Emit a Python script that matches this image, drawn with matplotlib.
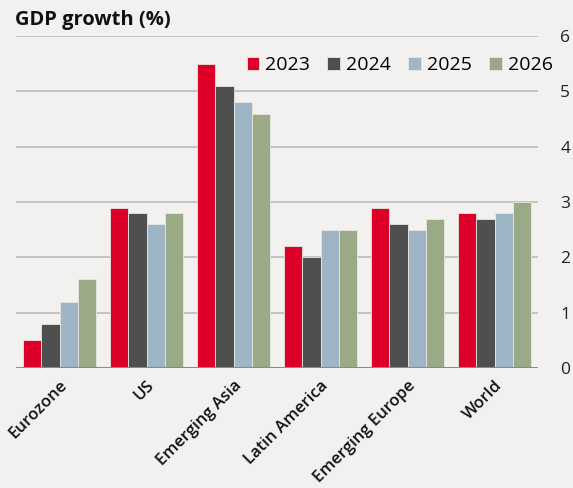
import matplotlib.pyplot as plt
import numpy as np

regions = ["Eurozone", "US", "Emerging Asia", "Latin America", "Emerging Europe", "World"]
years = ["2023", "2024", "2025", "2026"]
growth = {
    "2023": [0.5, 2.9, 5.5, 2.2, 2.9, 2.8],
    "2024": [0.8, 2.8, 5.1, 2.0, 2.6, 2.7],
    "2025": [1.2, 2.6, 4.8, 2.5, 2.5, 2.8],
    "2026": [1.6, 2.8, 4.6, 2.5, 2.7, 3.0],
}
colors = ["#dc0028", "#4f4f4f", "#9db5c4", "#9aa986"]

bg = "#f2f1ef"
plt.rcParams['font.family'] = ['Open Sans', 'DejaVu Sans']

fig = plt.figure(figsize=(5.73, 4.88), dpi=100, facecolor=bg)
ax = fig.add_axes([0.028, 0.246, 0.911, 0.680])
ax.set_facecolor(bg)

x = np.arange(len(regions))
w = 0.21
for i, yr in enumerate(years):
    ax.bar(x + (i - 1.5) * w, growth[yr], w, color=colors[i], label=yr,
           edgecolor="#e8e6e2", linewidth=0.6, zorder=3)

ax.set_xlim(-0.5, len(regions) - 0.5)
ax.set_ylim(0, 6)
ax.set_yticks(range(0, 7))
ax.yaxis.tick_right()
ax.tick_params(axis='y', length=0, labelsize=12.5, pad=16, colors="#222222")
ax.tick_params(axis='x', length=0, pad=7)
ax.set_xticks(x)
ax.set_xticklabels(regions, rotation=45, ha='right', rotation_mode='anchor',
                   fontsize=12, fontweight='semibold', color="#111111")
ax.grid(axis='y', color="#bdbcba", lw=1.2, zorder=0)
ax.axhline(0, color="#8a8a8a", lw=2.2, zorder=4)
for s in ax.spines.values():
    s.set_visible(False)

fig.text(0.026, 0.958, "GDP growth (%)", fontsize=14.5, fontweight='bold',
         va='center', ha='left', color="#111111")

fig.legend(loc='center right', bbox_to_anchor=(0.978, 0.866), ncol=4,
           frameon=False, fontsize=14, handlelength=0.65, handleheight=0.65,
           handletextpad=0.3, columnspacing=0.9, borderaxespad=0)

fig.savefig("out.png", dpi=100, facecolor=bg)
